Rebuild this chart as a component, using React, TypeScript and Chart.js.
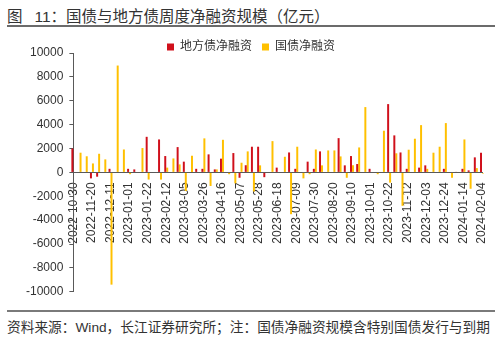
import React, { useEffect, useRef } from "react";
import { Chart, registerables } from "chart.js";

Chart.register(...registerables);

const weeks = [
  "2022-10-30", "2022-11-06", "2022-11-13", "2022-11-20", "2022-11-27", "2022-12-04", "2022-12-11", "2022-12-18", "2022-12-25",
  "2023-01-01", "2023-01-08", "2023-01-15", "2023-01-22", "2023-01-29", "2023-02-05", "2023-02-12", "2023-02-19", "2023-02-26",
  "2023-03-05", "2023-03-12", "2023-03-19", "2023-03-26", "2023-04-02", "2023-04-09", "2023-04-16", "2023-04-23", "2023-04-30",
  "2023-05-07", "2023-05-14", "2023-05-21", "2023-05-28", "2023-06-04", "2023-06-11", "2023-06-18", "2023-06-25", "2023-07-02",
  "2023-07-09", "2023-07-16", "2023-07-23", "2023-07-30", "2023-08-06", "2023-08-13", "2023-08-20", "2023-08-27", "2023-09-03",
  "2023-09-10", "2023-09-17", "2023-09-24", "2023-10-01", "2023-10-08", "2023-10-15", "2023-10-22", "2023-10-29", "2023-11-05",
  "2023-11-12", "2023-11-19", "2023-11-26", "2023-12-03", "2023-12-10", "2023-12-17", "2023-12-24", "2023-12-31", "2024-01-07",
  "2024-01-14", "2024-01-21", "2024-01-28", "2024-02-04",
];

// 地方债净融资（亿元）
const localNet = [
  2000, 0, 0, -500, -360, 0, 300, 0, 0, 300,
  250, 0, 2980, 0, 2760, 1370, 0, 2120, 900, 0,
  300, 300, 1510, 250, 1150, 0, 1620, -450, 600, 2150,
  2150, -400, 0, 400, 0, 1670, 300, 0, 900, 300,
  1760, 0, 0, 2870, 590, 1370, 700, 0, 300, 0,
  0, 5720, 3100, 1670, 300, 0, 400, 590, 0, 0,
  300, 0, 50, 300, 170, 1260, 1650,
];

// 国债净融资（亿元）
const treasuryNet = [
  0, 1650, 1350, 750, 1560, 1090, -9400, 8950, 1920, -150,
  0, 2040, -600, 0, -600, 400, 1170, 670, -1560, 1400,
  0, 2850, -1140, 250, 2730, -150, -920, 810, 1760, -1600,
  590, 0, 2620, 0, 1310, -3500, 2150, -500, -150, 1920,
  590, 1840, 1840, 1340, -450, 600, 2090, 5470, 0, -150,
  3490, -860, 1600, -2800, 1900, 2820, 3960, 300, 1650, 2150,
  4130, -450, 0, 2760, -1370, 360, -100,
];

const seriesNames = ["地方债净融资", "国债净融资"];
const seriesColors = ["#D0101B", "#FFC000"];
const yMin = -10000;
const yMax = 10000;
const yStep = 2000;
const labelEvery = 3;

const FONT = '"Liberation Sans", "Noto Sans CJK SC", Arial, sans-serif';
const AXIS = "#595959";

// tighten the space below the legend row
const tightLegend = {
  id: "tightLegend",
  beforeUpdate(chart: any) {
    const lg = chart.legend;
    if (lg && !lg.__patched) {
      const orig = lg.fit;
      lg.fit = function (this: any) {
        orig.call(this);
        this.height = Math.max(0, this.height - 10);
      };
      lg.__patched = true;
    }
  },
};

function BarChart() {
  const ref = useRef<HTMLCanvasElement | null>(null);
  useEffect(() => {
    if (!ref.current) return;
    Chart.defaults.font.family = FONT;
    const chart = new Chart(ref.current, {
      type: "bar",
      data: {
        labels: weeks,
        datasets: [
          { label: seriesNames[0], data: localNet, backgroundColor: seriesColors[0], borderWidth: 0, clip: false as any },
          { label: seriesNames[1], data: treasuryNet, backgroundColor: seriesColors[1], borderWidth: 0, clip: false as any },
        ],
      },
      plugins: [tightLegend],
      options: {
        animation: false,
        responsive: true,
        maintainAspectRatio: false,
        layout: { padding: { left: 20, right: 18, top: 0, bottom: 0 } },
        datasets: { bar: { categoryPercentage: 0.64, barPercentage: 1 } },
        plugins: {
          legend: {
            position: "top",
            labels: { boxWidth: 7, boxHeight: 7, color: "#333", font: { size: 12, family: FONT }, padding: 10 },
          },
          tooltip: { enabled: false },
        },
        scales: {
          x: {
            type: "category",
            position: { y: 0 } as any,
            offset: false,
            grid: { display: false },
            border: { display: true, color: AXIS, width: 1 },
            ticks: {
              autoSkip: false,
              maxRotation: 90,
              minRotation: 90,
              padding: 2,
              color: "#333",
              font: { size: 12, family: FONT },
              callback: (_v: any, i: number) => (i % labelEvery === 0 ? weeks[i] : ""),
            },
            afterFit: (s: any) => {
              s.height = 0;
            },
          },
          y: {
            min: yMin,
            max: yMax,
            border: { display: true, color: AXIS, width: 1 },
            grid: { display: true, drawOnChartArea: false, drawTicks: true, tickLength: 4, color: AXIS },
            ticks: {
              stepSize: yStep,
              padding: 6,
              color: "#333",
              font: { size: 12, family: FONT },
              callback: (v: any) => String(v),
            },
          },
        },
      },
    });
    return () => chart.destroy();
  }, []);
  return <canvas ref={ref} />;
}

export default function App() {
  return (
    <div
      style={{
        position: "absolute",
        left: 0,
        top: 0,
        width: 500,
        height: 347,
        background: "#fff",
        fontFamily: FONT,
        overflow: "hidden",
      }}
    >
      <div
        style={{
          position: "absolute",
          left: 7,
          top: 6,
          fontSize: 15.5,
          lineHeight: "22px",
          color: "#333",
          whiteSpace: "nowrap",
        }}
      >
        图<span style={{ marginLeft: 12 }}>11：</span>国债与地方债周度净融资规模（亿元）
      </div>
      <div style={{ position: "absolute", left: 7, top: 25, width: 488, height: 1.5, background: "#6b6b6b" }} />
      <div style={{ position: "absolute", left: 0, top: 31, width: 500, height: 274 }}>
        <BarChart />
      </div>
      <div style={{ position: "absolute", left: 7, top: 310, width: 488, height: 1.5, background: "#7a7a7a" }} />
      <div
        style={{
          position: "absolute",
          left: 7,
          top: 318,
          fontSize: 13.7,
          lineHeight: "20px",
          color: "#333",
          whiteSpace: "nowrap",
        }}
      >
        资料来源：Wind，长江证券研究所；注：国债净融资规模含特别国债发行与到期
      </div>
    </div>
  );
}
